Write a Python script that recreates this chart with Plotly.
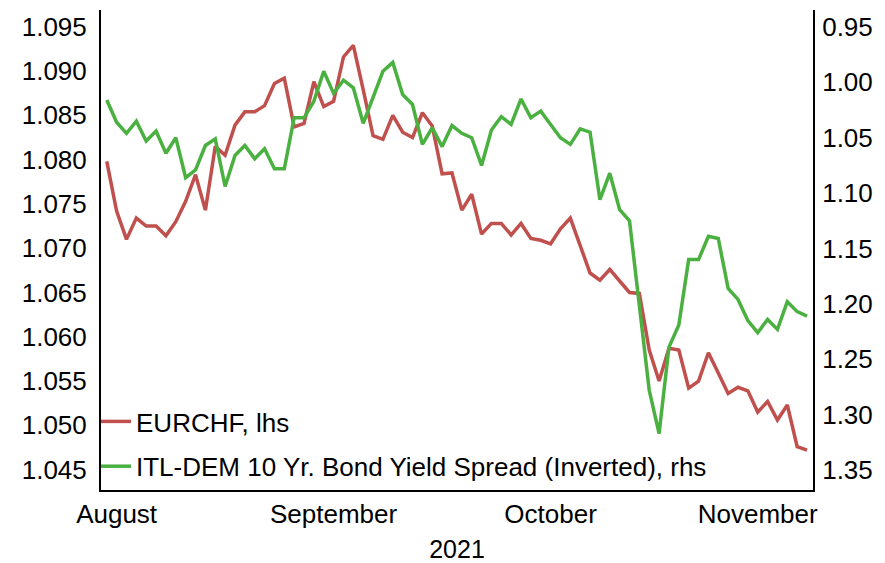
import pandas as pd
import plotly.graph_objects as go

dates = pd.bdate_range("2021-07-30", periods=72)

eurchf = [
    1.0798, 1.0742, 1.0710, 1.0734, 1.0725, 1.0725, 1.0714, 1.0730, 1.0753, 1.0783,
    1.0743, 1.0815, 1.0805, 1.0839, 1.0854, 1.0854, 1.0861, 1.0886, 1.0892, 1.0837,
    1.0841, 1.0888, 1.0860, 1.0866, 1.0916, 1.0929, 1.0879, 1.0827, 1.0823, 1.0850,
    1.0831, 1.0825, 1.0853, 1.0838, 1.0784, 1.0785, 1.0743, 1.0761, 1.0716, 1.0728,
    1.0728, 1.0715, 1.0728, 1.0711, 1.0709, 1.0705, 1.0722, 1.0734, 1.0703, 1.0672,
    1.0664, 1.0676, 1.0663, 1.0650, 1.0649, 1.0585, 1.0550, 1.0587, 1.0585, 1.0542,
    1.0550, 1.0582, 1.0559, 1.0536, 1.0543, 1.0539, 1.0515, 1.0527, 1.0506, 1.0523,
    1.0476, 1.0472,
]

itl_dem = [
    1.016, 1.036, 1.046, 1.035, 1.053, 1.044, 1.064, 1.050, 1.086, 1.079,
    1.057, 1.051, 1.094, 1.066, 1.057, 1.069, 1.060, 1.078, 1.078, 1.032,
    1.032, 1.017, 0.990, 1.010, 0.998, 1.005, 1.037, 1.013, 0.990, 0.982,
    1.011, 1.020, 1.056, 1.041, 1.058, 1.039, 1.046, 1.050, 1.075, 1.043,
    1.031, 1.038, 1.015, 1.032, 1.026, 1.038, 1.050, 1.056, 1.042, 1.045,
    1.106, 1.082, 1.115, 1.125, 1.202, 1.278, 1.317, 1.239, 1.219, 1.160,
    1.160, 1.139, 1.141, 1.186, 1.196, 1.215, 1.226, 1.214, 1.223, 1.198,
    1.207, 1.211,
]

month_ticks = ["2021-08-02", "2021-09-01", "2021-10-01", "2021-11-01"]
month_labels = ["August", "September", "October", "November"]

font = dict(family="Liberation Sans, Arial, sans-serif", size=26, color="#000000")

fig = go.Figure()
fig.add_trace(go.Scatter(x=dates, y=eurchf, name="EURCHF, lhs", mode="lines",
                         legendgroup="a", line=dict(color="#C0504D", width=3.5)))
fig.add_trace(go.Scatter(x=dates, y=itl_dem, name="ITL-DEM 10 Yr. Bond Yield Spread (Inverted), rhs",
                         mode="lines", yaxis="y2", legendgroup="b",
                         line=dict(color="#4AB040", width=3.5)))

fig.update_layout(
    width=885, height=563,
    margin=dict(l=101, r=72, t=10, b=73),
    paper_bgcolor="white", plot_bgcolor="white",
    font=font,
    showlegend=True,
    legend=dict(x=-0.007, y=0, xanchor="left", yanchor="bottom", bgcolor="rgba(0,0,0,0)",
                font=font, itemwidth=30, tracegroupgap=8),
    xaxis=dict(
        type="date",
        rangebreaks=[dict(bounds=["sat", "mon"])],
        range=["2021-07-29 10:00", "2021-11-08 14:30"],
        tickmode="array", tickvals=month_ticks, ticktext=month_labels,
        showgrid=False, zeroline=False, automargin=False,
        showline=True, linecolor="#000000", linewidth=2,
        ticks="", ticklabelstandoff=0,
        title=dict(text="2021", standoff=14, font=dict(size=25)),
    ),
    yaxis=dict(
        range=[1.0427, 1.0969],
        tickvals=[1.045, 1.05, 1.055, 1.06, 1.065, 1.07, 1.075, 1.08, 1.085, 1.09, 1.095],
        tickformat=".3f", automargin=False,
        showgrid=False, zeroline=False,
        showline=True, linecolor="#000000", linewidth=2,
        ticks="", ticklabelstandoff=7,
    ),
    yaxis2=dict(
        overlaying="y", side="right",
        range=[1.368, 0.9347],
        tickvals=[0.95, 1.0, 1.05, 1.1, 1.15, 1.2, 1.25, 1.3, 1.35],
        tickformat=".2f", automargin=False,
        showgrid=False, zeroline=False,
        showline=True, linecolor="#000000", linewidth=2,
        ticks="", ticklabelstandoff=2,
    ),
)

fig.write_html("out.html", config={"displayModeBar": False},
               post_script="document.body.style.margin='0';")
